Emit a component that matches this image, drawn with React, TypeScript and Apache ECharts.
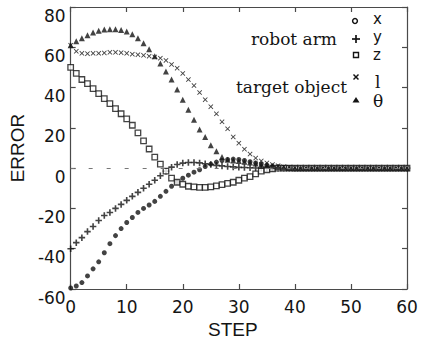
import React, { useEffect, useRef } from "react";
import * as echarts from "echarts";

// STEP index = array position (0..60)
const xTickValues = [0, 10, 20, 30, 40, 50, 60];
const yTickValues = [-60, -40, -20, 0, 20, 40, 60, 80];

// robot arm
const errX = [
  -59.5, -58.5, -56.8, -53.5, -50, -46.5, -42, -37.5, -33.5, -30,
  -27, -24.5, -22, -20, -18.3, -16.5, -14, -11.5, -9, -7,
  -5, -3.5, -2, -0.8, 0.8, 2, 3, 3.8, 4.3, 4.5,
  4.3, 3.8, 3.2, 2.6, 2, 1.5, 1, 0.6, 0.3, 0.1,
  0, 0, 0, 0, 0, 0, 0, 0, 0, 0,
  0, 0, 0, 0, 0, 0, 0, 0, 0, 0,
  0,
];
const errY = [
  -40, -37, -34.5, -31.5, -29, -26, -23.5, -22, -20, -18,
  -16, -14, -12, -10, -8, -6, -3.8, -1.5, 0.5, 1.8,
  2.5, 2.8, 2.8, 2.6, 2.2, 1.8, 1.4, 1.1, 0.8, 0.6,
  0.4, 0.3, 0.2, 0.1, 0, 0, 0, 0, 0, 0,
  0, 0, 0, 0, 0, 0, 0, 0, 0, 0,
  0, 0, 0, 0, 0, 0, 0, 0, 0, 0,
  0,
];
const errZ = [
  50, 47, 44, 42, 39.5, 37, 34.5, 32, 29.5, 27,
  24.5, 21.3, 17.5, 13.5, 9.5, 5.5, 2, -1.5, -5, -7,
  -8, -9, -9.3, -9.5, -9.5, -9.3, -8.8, -8.2, -7.6, -7,
  -6, -5, -4.2, -2.8, -1.5, -0.8, -0.3, 0, 0, 0,
  0, 0, 0, 0, 0, 0, 0, 0, 0, 0,
  0, 0, 0, 0, 0, 0, 0, 0, 0, 0,
  0,
];
// target object
const errL = [
  61, 58, 57, 56.8, 57, 57, 57.2, 57.5, 57.5, 57.3,
  57, 56.6, 56.3, 56, 55.6, 55.2, 54.6, 53.5, 51.5, 49.6,
  47, 44, 41, 37.5, 34, 30.5, 27, 23, 19.5, 15.5,
  12.4, 9.4, 7, 5, 3.6, 2.6, 1.8, 1.2, 0.7, 0.4,
  0.2, 0, 0, 0, 0, 0, 0, 0, 0, 0,
  0, 0, 0, 0, 0, 0, 0, 0, 0, 0,
  0,
];
const errTheta = [
  61, 63, 64.5, 66, 67.3, 68.2, 68.8, 69, 69, 68.6,
  67.8, 66.5, 64.5, 62, 59, 55.5, 52, 48, 44, 39,
  34, 29, 24, 19.2, 15.4, 11.4, 8.4, 5.5, 4.2, 3.8,
  3.5, 3.2, 2.8, 2.3, 1.8, 1.3, 0.9, 0.6, 0.3, 0.1,
  0, 0, 0, 0, 0, 0, 0, 0, 0, 0,
  0, 0, 0, 0, 0, 0, 0, 0, 0, 0,
  0,
];

const legendRows = ["x", "y", "z", "l", "θ"];
const groupLabels = ["robot arm", "target object"];

const PLUS = "path://M3,0H5V3H8V5H5V8H3V5H0V3H3Z";
const CROSS = "path://M1,0L4,3L7,0L8,1L5,4L8,7L7,8L4,5L1,8L0,7L3,4L0,1Z";

const toPairs = (arr: number[]) => arr.map((v, i) => [i, v]);

const INK = "#141414";
const AXIS = "#4a4a4a";
const SANS = "'DejaVu Sans', sans-serif";
const SERIF = "'DejaVu Serif', serif";

export default function App() {
  const ref = useRef<HTMLDivElement>(null);
  useEffect(() => {
    if (!ref.current) return;
    const chart = echarts.init(ref.current, null, { renderer: "svg" });
    const axisCommon = {
      type: "value" as const,
      axisLine: { show: true, onZero: false, lineStyle: { color: AXIS, width: 1.2 } },
      axisTick: { show: true, inside: true, length: 5, lineStyle: { color: AXIS, width: 1.2 } },
      splitLine: { show: false },
    };
    const legendText = (text: string, x: number, y: number, family: string, size: number) => ({
      type: "text",
      x,
      y,
      style: { text, font: `${size}px ${family}`, fill: INK, align: "left", verticalAlign: "middle" },
    });
    const option: any = {
      animation: false,
      backgroundColor: "#ffffff",
      grid: { left: 62, right: 14, top: 7, bottom: 55, containLabel: false },
      xAxis: [
        {
          ...axisCommon,
          position: "bottom",
          min: xTickValues[0],
          max: xTickValues[xTickValues.length - 1],
          interval: 10,
          axisLabel: { fontFamily: SANS, fontSize: 17, color: INK, margin: 9 },
          name: "STEP",
          nameLocation: "middle",
          nameGap: 29,
          nameTextStyle: { fontFamily: "'Liberation Sans', sans-serif", fontSize: 19, color: INK, padding: [0, 12, 0, 0] },
        },
        {
          ...axisCommon,
          position: "top",
          min: xTickValues[0],
          max: xTickValues[xTickValues.length - 1],
          interval: 10,
          axisLabel: { show: false },
        },
      ],
      yAxis: [
        {
          ...axisCommon,
          position: "left",
          min: yTickValues[0],
          max: yTickValues[yTickValues.length - 1],
          interval: 20,
          axisLabel: { fontFamily: SANS, fontSize: 17, color: INK, margin: 5, verticalAlign: "top" },
          name: "ERROR",
          nameLocation: "middle",
          nameGap: 30,
          nameRotate: 90,
          nameTextStyle: { fontFamily: "'Liberation Sans', sans-serif", fontSize: 19, color: INK },
        },
        {
          ...axisCommon,
          position: "right",
          min: yTickValues[0],
          max: yTickValues[yTickValues.length - 1],
          interval: 20,
          axisLabel: { show: false },
        },
      ],
      series: [
        {
          name: "zero",
          type: "scatter",
          data: [],
          markLine: {
            silent: true,
            symbol: ["none", "none"],
            label: { show: false },
            lineStyle: { type: [4, 14], color: "#777", width: 1 },
            data: [{ yAxis: 0 }],
          },
        },
        {
          name: "x",
          type: "scatter",
          data: toPairs(errX),
          symbol: "circle",
          symbolSize: 5,
          itemStyle: { color: INK },
        },
        {
          name: "y",
          type: "scatter",
          data: toPairs(errY),
          symbol: PLUS,
          symbolSize: 6.5,
          itemStyle: { color: INK },
        },
        {
          name: "z",
          type: "scatter",
          data: toPairs(errZ),
          symbol: "rect",
          symbolSize: 5.5,
          itemStyle: { color: "#fff", borderColor: INK, borderWidth: 1.3 },
        },
        {
          name: "l",
          type: "scatter",
          data: toPairs(errL),
          symbol: CROSS,
          symbolSize: 5,
          itemStyle: { color: INK },
        },
        {
          name: "θ",
          type: "scatter",
          data: toPairs(errTheta),
          symbol: "triangle",
          symbolSize: 6,
          itemStyle: { color: INK },
        },
      ],
      graphic: [
        // group labels
        { type: "text", x: 337, y: 39, style: { text: groupLabels[0], font: `17px ${SERIF}`, fill: INK, align: "right", verticalAlign: "middle" } },
        { type: "text", x: 347, y: 87, style: { text: groupLabels[1], font: `17px ${SERIF}`, fill: INK, align: "right", verticalAlign: "middle" } },
        // row labels
        legendText(legendRows[0], 373, 19, SANS, 15),
        legendText(legendRows[1], 373, 37, SANS, 15),
        legendText(legendRows[2], 373, 55, SANS, 15),
        legendText(legendRows[3], 375, 82, SERIF, 17),
        legendText(legendRows[4], 373, 101, SERIF, 17),
        // row symbols
        { type: "circle", shape: { cx: 355, cy: 21, r: 2.4 }, style: { fill: "#fff", stroke: INK, lineWidth: 1.5 } },
        { type: "line", shape: { x1: 352, y1: 39, x2: 360, y2: 39 }, style: { stroke: INK, lineWidth: 1.7 } },
        { type: "line", shape: { x1: 356, y1: 35, x2: 356, y2: 43 }, style: { stroke: INK, lineWidth: 1.7 } },
        { type: "rect", shape: { x: 353.5, y: 52.5, width: 5, height: 5 }, style: { fill: "#fff", stroke: INK, lineWidth: 1.4 } },
        { type: "line", shape: { x1: 353.5, y1: 74.5, x2: 358.5, y2: 79.5 }, style: { stroke: INK, lineWidth: 1.5 } },
        { type: "line", shape: { x1: 358.5, y1: 74.5, x2: 353.5, y2: 79.5 }, style: { stroke: INK, lineWidth: 1.5 } },
        { type: "polygon", shape: { points: [[356, 97], [359.5, 102.5], [352.5, 102.5]] }, style: { fill: INK } },
      ],
    };
    chart.setOption(option);
    return () => chart.dispose();
  }, []);
  return (
    <div
      ref={ref}
      style={{ position: "fixed", left: 0, top: 0, width: 421, height: 344, background: "#fff" }}
    />
  );
}
